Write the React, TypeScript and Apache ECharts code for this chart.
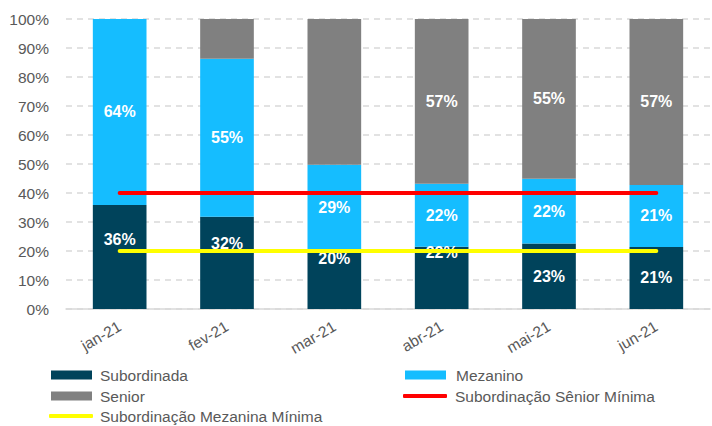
import React, { useEffect, useRef } from "react";
import * as echarts from "echarts";

const categories = ["jan-21", "fev-21", "mar-21", "abr-21", "mai-21", "jun-21"];
const subordinada = [35.9, 31.8, 20.4, 21.5, 22.6, 21.4];
const mezanino = [64.1, 54.5, 29.3, 21.7, 22.3, 21.4];
const senior = [0, 13.7, 50.3, 56.8, 55.1, 57.2];
const seniorLabelShown = [false, false, false, true, true, true];
const seniorMinima = [40, 40, 40, 40, 40, 40];
const mezaninaMinima = [20, 20, 20, 20, 20, 20];
const yTicks = [0, 10, 20, 30, 40, 50, 60, 70, 80, 90, 100];

// label vertical shifts for the Subordinada labels (layout only)
const subLabelShift = [-17, -19, -21, -25, 0, 0];

const TEXT = "#595959";
const SANS = "'Liberation Sans', Arial, sans-serif";

const C_SUB = "#00435B";
const C_MEZ = "#15BDFF";
const C_SEN = "#808080";
const C_RED = "#FF0000";
const C_YEL = "#FFFF00";

function legendItem(name: string, left: number, centerY: number, kind: "rect" | "line", textPad: number) {
  const isLine = kind === "line";
  return {
    left,
    top: centerY - 9,
    padding: 0,
    orient: "horizontal",
    itemWidth: isLine ? 44 : 41,
    itemHeight: isLine ? 4 : 9,
    icon: isLine ? "roundRect" : "rect",
    textStyle: {
      color: TEXT,
      fontFamily: SANS,
      fontSize: 15.5,
      padding: [0, 0, 0, textPad],
    },
    data: [{ name }],
  };
}

export default function App() {
  const ref = useRef<HTMLDivElement>(null);
  useEffect(() => {
    if (!ref.current) return;
    const chart = echarts.init(ref.current, undefined, { renderer: "svg" });
    const dataLabel = {
      show: true,
      position: "inside",
      color: "#ffffff",
      fontFamily: SANS,
      fontWeight: "bold",
      fontSize: 16,
      formatter: (p: any) => `${Math.round(p.value)}%`,
    };
    chart.setOption({
      animation: false,
      grid: { left: 66, right: 2, top: 19, bottom: 117, containLabel: false },
      legend: [
        legendItem("Subordinada", 51, 376, "rect", 3),
        legendItem("Senior", 51, 397, "rect", 3),
        legendItem("Subordinação Mezanina Mínima", 49, 417, "line", 2),
        legendItem("Mezanino", 405, 376, "rect", 5),
        legendItem("Subordinação Sênior Mínima", 403, 397, "line", 3),
      ],
      xAxis: {
        type: "category",
        data: categories,
        axisLine: { lineStyle: { color: "#d9d9d9", width: 1.5 } },
        axisTick: { show: false },
        axisLabel: {
          rotate: 30,
          margin: 16,
          color: TEXT,
          fontFamily: SANS,
          fontSize: 15.5,
        },
      },
      yAxis: {
        type: "value",
        min: yTicks[0],
        max: yTicks[yTicks.length - 1],
        interval: yTicks[1] - yTicks[0],
        axisLine: { show: false },
        axisTick: { show: false },
        axisLabel: {
          formatter: "{value}%",
          margin: 17,
          color: TEXT,
          fontFamily: SANS,
          fontSize: 15.5,
        },
        splitLine: {
          lineStyle: { color: "#d9d9d9", type: [6, 5], width: 1.5 },
        },
      },
      series: [
        {
          name: "Subordinada",
          type: "bar",
          stack: "total",
          barWidth: "50%",
          z: 2,
          itemStyle: { color: C_SUB },
          label: dataLabel,
          data: subordinada.map((v, i) => ({
            value: v,
            label: { offset: [0, subLabelShift[i]] },
          })),
        },
        {
          name: "Mezanino",
          type: "bar",
          stack: "total",
          z: 2,
          itemStyle: { color: C_MEZ },
          label: dataLabel,
          data: mezanino,
        },
        {
          name: "Senior",
          type: "bar",
          stack: "total",
          z: 2,
          itemStyle: { color: C_SEN },
          label: dataLabel,
          data: senior.map((v, i) => ({
            value: v,
            label: { show: seniorLabelShown[i] },
          })),
        },
        {
          name: "Subordinação Sênior Mínima",
          type: "line",
          z: 5,
          symbol: "none",
          lineStyle: { color: C_RED, width: 4, cap: "round" },
          itemStyle: { color: C_RED },
          data: seniorMinima,
        },
        {
          name: "Subordinação Mezanina Mínima",
          type: "line",
          z: 5,
          symbol: "none",
          lineStyle: { color: C_YEL, width: 4, cap: "round" },
          itemStyle: { color: C_YEL },
          data: mezaninaMinima,
        },
      ],
    });
    return () => chart.dispose();
  }, []);
  return (
    <div
      ref={ref}
      style={{ position: "fixed", left: 0, top: 0, width: 712, height: 426, background: "#ffffff" }}
    />
  );
}
